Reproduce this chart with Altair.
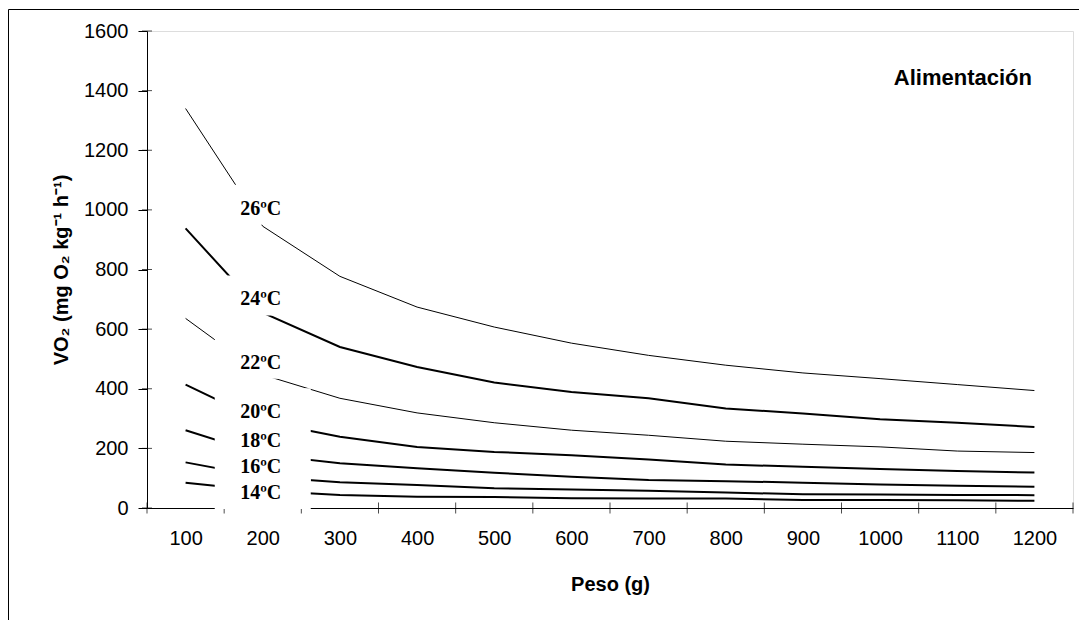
import altair as alt
import pandas as pd

weights = [100, 200, 300, 400, 500, 600, 700, 800, 900, 1000, 1100, 1200]
temps = ["26ºC", "24ºC", "22ºC", "20ºC", "18ºC", "16ºC", "14ºC"]
v26 = [1340, 945, 777, 674, 607, 553, 512, 479, 453, 434, 414, 394]
v24 = [938, 655, 540, 473, 421, 389, 368, 334, 317, 298, 286, 272]
v22 = [636, 447, 368, 319, 286, 261, 244, 224, 214, 205, 191, 186]
v20 = [414, 290, 239, 205, 188, 177, 163, 146, 138, 131, 124, 119]
v18 = [261, 179, 150, 133, 118, 105, 94, 90, 85, 79, 75, 71]
v16 = [153, 105, 86, 77, 66, 62, 58, 52, 46, 45, 44, 43]
v14 = [85, 58, 44, 38, 37, 33, 32, 32, 27, 27, 26, 24]
series = [v26, v24, v22, v20, v18, v16, v14]
widths = [1, 2, 1, 2, 2, 2, 2]

label_x = [200] * 7
label_y = [1017, 713, 501, 335, 238, 151, 64]

y_ticks = [0, 200, 400, 600, 800, 1000, 1200, 1400, 1600]
x_bounds = [w - 50 for w in weights] + [weights[-1] + 50]

title_text = "Alimentación"

rows = []
for t, vals in zip(temps, series):
    for w, v in zip(weights, vals):
        rows.append({"peso": w, "vo2": v, "temp": t})
df = pd.DataFrame(rows)
lab = pd.DataFrame({"peso": label_x, "vo2": label_y, "temp": temps})
xb = pd.DataFrame({"b": x_bounds})
yt = pd.DataFrame({"t": y_ticks})

W, H = 926, 477
xscale = alt.Scale(domain=[50, 1250], nice=False, zero=False)
yscale = alt.Scale(domain=[0, 1600], nice=False)

lines = alt.Chart(df).mark_line(color="black").encode(
    x=alt.X("peso:Q", scale=xscale,
            axis=alt.Axis(values=weights, format="d", ticks=False, grid=False,
                          labelPadding=20, title="Peso (g)", titlePadding=26,
                          domainColor="black", labelFontSize=20, titleFontSize=20,
                          labelColor="black", titleColor="black", labelFlush=False)),
    y=alt.Y("vo2:Q", scale=yscale,
            axis=alt.Axis(values=y_ticks, format="d", grid=False, tickSize=9, tickColor="black",
                          labelPadding=10, title="VO₂ (mg O₂ kg⁻¹ h⁻¹)", titlePadding=12,
                          domainColor="black", labelFontSize=20, titleFontSize=20,
                          labelColor="black", titleColor="black", labelFlush=False)),
    detail="temp:N",
    strokeWidth=alt.StrokeWidth("temp:N",
                                scale=alt.Scale(type="ordinal", domain=temps, range=widths),
                                legend=None),
)

xticks = alt.Chart(xb).mark_tick(color="black", size=11, thickness=1).encode(
    x=alt.X("b:Q", scale=xscale), y=alt.value(H)
)
yticks = alt.Chart(yt).mark_tick(color="black", size=10, thickness=1).encode(
    y=alt.Y("t:Q", scale=yscale), x=alt.value(0)
)

boxes = alt.Chart(lab).mark_point(
    shape="M-2.4,-1L2.4,-1L2.4,1L-2.4,1Z", size=1600, filled=True,
    fill="white", opacity=1, strokeWidth=0
).encode(x=alt.X("peso:Q", scale=xscale), y=alt.Y("vo2:Q", scale=yscale))

texts = alt.Chart(lab).mark_text(
    font="Liberation Serif", fontWeight="bold", fontSize=20, color="black",
    baseline="middle", align="center", dy=4, dx=-2
).encode(x=alt.X("peso:Q", scale=xscale), y=alt.Y("vo2:Q", scale=yscale), text="temp:N")

title = alt.Chart(pd.DataFrame({"t": [title_text]})).mark_text(
    font="Liberation Sans", fontWeight="bold", fontSize=22, color="black",
    align="right", baseline="alphabetic"
).encode(x=alt.value(885), y=alt.value(54), text="t:N")

border = alt.Chart(pd.DataFrame({"t": [0]})).mark_rect(
    fill="transparent", stroke="black", strokeWidth=1
).encode(x=alt.value(-138.5), x2=alt.value(3000), y=alt.value(-21.5), y2=alt.value(3000))

chart = alt.layer(lines, xticks, yticks, boxes, texts, title, border).properties(
    width=W, height=H,
    padding={"left": 139, "top": 23, "right": 6, "bottom": 112},
    autosize=alt.AutoSizeParams(type="none"),
).configure_view(stroke="#808080", strokeWidth=1).configure(
    font="Liberation Sans", background="white"
).configure_axis(labelFont="Liberation Sans", titleFont="Liberation Sans",
                 titleFontWeight="bold", domainWidth=1)

chart.save("out.html", embed_options={"renderer": "svg", "actions": False})
